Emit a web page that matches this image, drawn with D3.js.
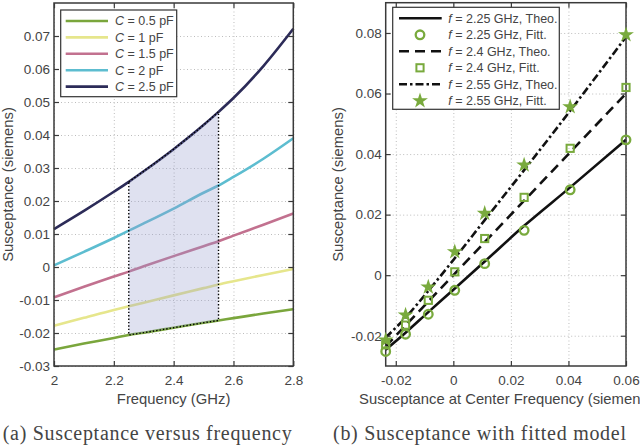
<!DOCTYPE html>
<html>
<head>
<meta charset="utf-8">
<script src="https://cdn.jsdelivr.net/npm/d3@7"></script>
<style>
  body { margin: 0; background: #fff; }
  svg text { font-family: "Liberation Sans", Arial, sans-serif; fill: #444; }
</style>
</head>
<body>
<div id="chart"></div>
<script>
// ---- (a) susceptance versus frequency ----
var freqs = [2.0, 2.1, 2.2, 2.25, 2.3, 2.4, 2.5, 2.55, 2.6, 2.7, 2.8];
var capLabels = ["0.5", "1", "1.5", "2", "2.5"];
var b05 = [-0.025, -0.0232, -0.0215, -0.0206, -0.0199, -0.0184, -0.0169, -0.0162, -0.0155, -0.0141, -0.0128];
var b10 = [-0.0178, -0.0154, -0.013, -0.0119, -0.0108, -0.0086, -0.0064, -0.0053, -0.0043, -0.0024, -0.0006];
var b15 = [-0.0092, -0.006, -0.0029, -0.0014, 0.0002, 0.0033, 0.0063, 0.0078, 0.0095, 0.0128, 0.0162];
var b20 = [0.0005, 0.0046, 0.0088, 0.011, 0.0132, 0.0177, 0.0225, 0.0247, 0.0273, 0.0328, 0.039];
var b25 = [0.0115, 0.017, 0.0228, 0.0258, 0.029, 0.0357, 0.043, 0.047, 0.0512, 0.0609, 0.0722];
var capColors = ["#7aa63c", "#e6e68c", "#c2718f", "#5dbdd0", "#2c2b58"];
var band = [2.25, 2.55];
var freqTicks = [2, 2.2, 2.4, 2.6, 2.8];
var leftYTicks = [-0.03, -0.02, -0.01, 0, 0.01, 0.02, 0.03, 0.04, 0.05, 0.06, 0.07];

// ---- (b) susceptance with fitted model ----
var centerB = [-0.0235, -0.0166, -0.0087, 0.0005, 0.0109, 0.0246, 0.0406, 0.06];
var theo225 = [-0.0246, -0.019, -0.0122, -0.0044, 0.0045, 0.0163, 0.029, 0.0447];
var theo240 = [-0.0235, -0.0166, -0.0087, 0.0005, 0.0109, 0.0246, 0.0406, 0.06];
var theo255 = [-0.0206, -0.014, -0.0052, 0.0056, 0.0182, 0.0347, 0.0543, 0.0787];
var fit225 = [-0.0252, -0.0195, -0.0129, -0.005, 0.0038, 0.0148, 0.0282, 0.0447];
var fit240 = [-0.023, -0.0165, -0.0083, 0.0011, 0.0121, 0.0257, 0.0419, 0.062];
var fit255 = [-0.0214, -0.0132, -0.0039, 0.0077, 0.0204, 0.0364, 0.0556, 0.0794];
var fitFreqs = ["2.25", "2.4", "2.55"];
var rightXTicks = [-0.02, 0, 0.02, 0.04, 0.06];
var rightYTicks = [-0.02, 0, 0.02, 0.04, 0.06, 0.08];

var markColor = "#79aa3d";
var fmt = function (d) { return String(+d.toFixed(2)); };

var svg = d3.select('#chart')
  .append('svg')
  .attr('width', 640)
  .attr('height', 448);

// dotted grid under the data
function drawFrame(g, x, y, xTicks, yTicks) {
  var x0 = x.range()[0], x1 = x.range()[1];
  var y0 = y.range()[0], y1 = y.range()[1];

  g.append('g')
    .attr('transform', 'translate(0,' + y0 + ')')
    .call(d3.axisBottom(x).tickValues(xTicks).tickSize(-(y0 - y1)).tickFormat(''))
    .call(function (a) { a.select('.domain').remove(); })
    .selectAll('line')
    .attr('stroke', '#bdbdbd').attr('stroke-dasharray', '1,2.5');
  g.append('g')
    .attr('transform', 'translate(' + x0 + ',0)')
    .call(d3.axisLeft(y).tickValues(yTicks).tickSize(-(x1 - x0)).tickFormat(''))
    .call(function (a) { a.select('.domain').remove(); })
    .selectAll('line')
    .attr('stroke', '#bdbdbd').attr('stroke-dasharray', '1,2.5');
}

// box with inward ticks on all four sides, MATLAB style
function drawAxes(g, x, y, xTicks, yTicks) {
  var x0 = x.range()[0], x1 = x.range()[1];
  var y0 = y.range()[0], y1 = y.range()[1];
  var style = function (a) {
    a.select('.domain').remove();
    a.selectAll('line').attr('stroke', '#3a3a3a').attr('stroke-width', 1.2);
    a.selectAll('text').style('font-size', '13.5px').attr('fill', '#444');
  };
  g.append('g').attr('transform', 'translate(0,' + y0 + ')')
    .call(d3.axisBottom(x).tickValues(xTicks).tickSize(-5).tickPadding(9).tickFormat(fmt)).call(style);
  g.append('g').attr('transform', 'translate(0,' + y1 + ')')
    .call(d3.axisTop(x).tickValues(xTicks).tickSize(-5).tickFormat('')).call(style);
  g.append('g').attr('transform', 'translate(' + x0 + ',0)')
    .call(d3.axisLeft(y).tickValues(yTicks).tickSize(-5).tickPadding(4).tickFormat(fmt)).call(style);
  g.append('g').attr('transform', 'translate(' + x1 + ',0)')
    .call(d3.axisRight(y).tickValues(yTicks).tickSize(-5).tickFormat('')).call(style);
  g.append('rect')
    .attr('x', x0).attr('y', y1)
    .attr('width', x1 - x0).attr('height', y0 - y1)
    .attr('fill', 'none').attr('stroke', '#3a3a3a').attr('stroke-width', 1.5);
}

// ---------- left panel ----------
var xL = d3.scaleLinear().domain([2, 2.8]).range([54, 293.3]);
var yL = d3.scaleLinear().domain([-0.03, 0.08]).range([366, 3]);
var left = svg.append('g');
drawFrame(left, xL, yL, freqTicks, leftYTicks);

var capSeries = [b05, b10, b15, b20, b25].map(function (vals, i) {
  return { label: capLabels[i], color: capColors[i],
    pts: freqs.map(function (f, j) { return [f, vals[j]]; }) };
});

var lineL = d3.line()
  .x(function (d) { return xL(d[0]); })
  .y(function (d) { return yL(d[1]); })
  .curve(d3.curveMonotoneX);

left.selectAll('.cap')
  .data(capSeries)
  .enter()
  .append('path')
  .attr('class', 'cap')
  .attr('d', function (d) { return lineL(d.pts); })
  .attr('fill', 'none')
  .attr('stroke', function (d) { return d.color; })
  .attr('stroke-width', 2.6);

// shaded operating band between smallest and largest capacitance
var bandPts = freqs.map(function (f, j) { return { f: f, lo: b05[j], hi: b25[j] }; })
  .filter(function (d) { return d.f >= band[0] && d.f <= band[1]; });
var bandArea = d3.area()
  .x(function (d) { return xL(d.f); })
  .y0(function (d) { return yL(d.lo); })
  .y1(function (d) { return yL(d.hi); })
  .curve(d3.curveMonotoneX);
left.append('path')
  .attr('d', bandArea(bandPts))
  .attr('fill', 'rgb(148,156,205)')
  .attr('fill-opacity', 0.3);
left.append('path')
  .attr('d', bandArea(bandPts))
  .attr('fill', 'none')
  .attr('stroke', '#000')
  .attr('stroke-width', 1.4)
  .attr('stroke-dasharray', '1.4,2');

drawAxes(left, xL, yL, freqTicks, leftYTicks);

var legL = left.append('g');
legL.append('rect')
  .attr('x', 60.7).attr('y', 10).attr('width', 116).attr('height', 86.7)
  .attr('fill', '#fff').attr('stroke', '#333').attr('stroke-width', 1.2);
var legLItems = legL.selectAll('.item')
  .data(capSeries)
  .enter()
  .append('g')
  .attr('class', 'item')
  .attr('transform', function (d, i) { return 'translate(0,' + (21 + i * 16.4) + ')'; });
legLItems.append('line')
  .attr('x1', 65.7).attr('x2', 108)
  .attr('stroke', function (d) { return d.color; })
  .attr('stroke-width', 2.6);
var legLText = legLItems.append('text')
  .attr('x', 115).attr('dy', '0.35em')
  .style('font-size', '12.5px').attr('fill', '#333');
legLText.append('tspan').style('font-style', 'italic').text('C');
legLText.append('tspan').text(function (d) { return ' = ' + d.label + ' pF'; });

left.append('text')
  .attr('x', 173.6).attr('y', 404)
  .attr('text-anchor', 'middle')
  .style('font-size', '14.8px')
  .text('Frequency (GHz)');
left.append('text')
  .attr('transform', 'translate(12.5,184.5) rotate(-90)')
  .attr('text-anchor', 'middle')
  .style('font-size', '14.8px')
  .text('Susceptance (siemens)');

// ---------- right panel ----------
var xR = d3.scaleLinear().domain([-0.0235, 0.06]).range([385.7, 626]);
var yR = d3.scaleLinear().domain([-0.03, 0.09]).range([366, 2.7]);
var right = svg.append('g');
drawFrame(right, xR, yR, rightXTicks, rightYTicks);

var fitSeries = [
  { f: fitFreqs[0], theo: theo225, fit: fit225, dash: null, marker: 'circle' },
  { f: fitFreqs[1], theo: theo240, fit: fit240, dash: '10,6', marker: 'square' },
  { f: fitFreqs[2], theo: theo255, fit: fit255, dash: '8,3,2.5,3', marker: 'star' }
];

var lineR = d3.line()
  .x(function (d) { return xR(d[0]); })
  .y(function (d) { return yR(d[1]); })
  .curve(d3.curveMonotoneX);

right.selectAll('.theo')
  .data(fitSeries)
  .enter()
  .append('path')
  .attr('class', 'theo')
  .attr('d', function (d) { return lineR(centerB.map(function (c, j) { return [c, d.theo[j]]; })); })
  .attr('fill', 'none')
  .attr('stroke', '#111')
  .attr('stroke-width', 2.6)
  .attr('stroke-dasharray', function (d) { return d.dash; });

drawAxes(right, xR, yR, rightXTicks, rightYTicks);

function addMarker(sel, kind) {
  if (kind === 'circle') {
    sel.append('circle').attr('r', 4.3)
      .attr('fill', 'none').attr('stroke', markColor).attr('stroke-width', 2.3);
  } else if (kind === 'square') {
    sel.append('rect').attr('x', -3.6).attr('y', -3.6).attr('width', 7.2).attr('height', 7.2)
      .attr('fill', 'none').attr('stroke', markColor).attr('stroke-width', 2);
  } else {
    sel.append('path').attr('d', d3.symbol().type(d3.symbolStar).size(78)())
      .attr('fill', markColor);
  }
}

fitSeries.forEach(function (s) {
  right.selectAll('.m' + s.marker)
    .data(centerB.map(function (c, j) { return [c, s.fit[j]]; }))
    .enter()
    .append('g')
    .attr('class', 'm' + s.marker)
    .attr('transform', function (d) { return 'translate(' + xR(d[0]) + ',' + yR(d[1]) + ')'; })
    .each(function () { addMarker(d3.select(this), s.marker); });
});

var legR = right.append('g');
legR.append('rect')
  .attr('x', 392.7).attr('y', 7.3).attr('width', 166.6).attr('height', 102)
  .attr('fill', '#fff').attr('stroke', '#333').attr('stroke-width', 1.2);
var legRRows = [];
fitSeries.forEach(function (s) {
  legRRows.push({ s: s, kind: 'theo', txt: ' = ' + s.f + ' GHz, Theo.' });
  legRRows.push({ s: s, kind: 'fit', txt: ' = ' + s.f + ' GHz, Fitt.' });
});
var legRItems = legR.selectAll('.item')
  .data(legRRows)
  .enter()
  .append('g')
  .attr('class', 'item')
  .attr('transform', function (d, i) { return 'translate(0,' + (18.3 + i * 16.5) + ')'; });
legRItems.filter(function (d) { return d.kind === 'theo'; })
  .append('line')
  .attr('x1', 399).attr('x2', 441.7)
  .attr('stroke', '#111').attr('stroke-width', 2.6)
  .attr('stroke-dasharray', function (d) { return d.s.dash; });
legRItems.filter(function (d) { return d.kind === 'fit'; })
  .append('g')
  .attr('transform', 'translate(420,0)')
  .each(function (d) { addMarker(d3.select(this), d.s.marker); });
var legRText = legRItems.append('text')
  .attr('x', 448.3).attr('dy', '0.35em')
  .style('font-size', '12.5px').attr('fill', '#333');
legRText.append('tspan').style('font-style', 'italic').text('f');
legRText.append('tspan').text(function (d) { return d.txt; });

right.append('text')
  .attr('x', 505.9).attr('y', 404)
  .attr('text-anchor', 'middle')
  .style('font-size', '14.8px')
  .text('Susceptance at Center Frequency (siemens)');
right.append('text')
  .attr('transform', 'translate(343,184.5) rotate(-90)')
  .attr('text-anchor', 'middle')
  .style('font-size', '14.8px')
  .text('Susceptance (siemens)');

// captions
svg.append('text')
  .attr('x', 2.7).attr('y', 440)
  .attr('textLength', 289).attr('lengthAdjust', 'spacing')
  .style('font-family', '"Liberation Serif", "Times New Roman", serif')
  .style('font-size', '20px').attr('fill', '#111')
  .text('(a) Susceptance versus frequency');
svg.append('text')
  .attr('x', 333).attr('y', 440)
  .attr('textLength', 293).attr('lengthAdjust', 'spacing')
  .style('font-family', '"Liberation Serif", "Times New Roman", serif')
  .style('font-size', '20px').attr('fill', '#111')
  .text('(b) Susceptance with fitted model');
</script>
</body>
</html>
